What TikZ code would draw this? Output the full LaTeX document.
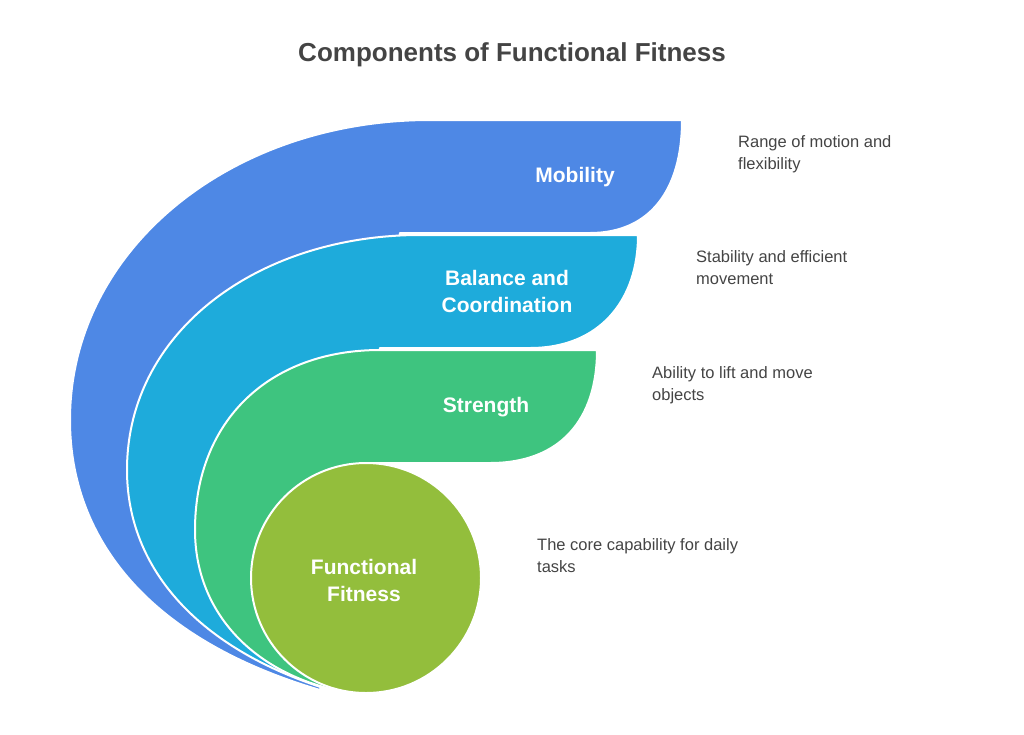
\documentclass[tikz,border=0pt]{standalone}
\usepackage{fontspec}
\setmainfont{Liberation Sans}
\definecolor{mobblue}{HTML}{4E88E5}
\definecolor{balblue}{HTML}{1EABDB}
\definecolor{strgreen}{HTML}{3EC47F}
\definecolor{fitgreen}{HTML}{93BE3C}
\definecolor{txtgray}{HTML}{444444}
\tikzset{
  /tikz/.cd,
  band/.style={draw=white,line width=2pt,line join=round},
  bandlabel/.style={text=white,font=\fontsize{21}{27}\selectfont\bfseries,align=center},
  desc/.style={text=txtgray,font=\fontsize{16.5}{22}\selectfont,align=left,anchor=north west,inner sep=0pt}
}
\begin{document}
\begin{tikzpicture}[x=1pt,y=-1pt]
  \useasboundingbox (0,0) rectangle (1024,734);
  \node[text=txtgray,font=\fontsize{26}{30}\selectfont\bfseries] (title) at (512,55) {Components of Functional Fitness};

  % bands, back to front
  \fill[mobblue,band] (430,120) -- (682,120) .. controls (682,190) and (650,233) .. (590,233)
     -- (400,233) -- (320,690) .. controls (150,640) and (70,540) .. (70,420)
     .. controls (70,250) and (230,120) .. (430,120) -- cycle;
  \fill[balblue,band] (420,235) -- (638,235) .. controls (638,300) and (600,348) .. (530,348)
     -- (380,348) -- (330,690) .. controls (200,650) and (127,570) .. (127,470)
     .. controls (127,330) and (260,235) .. (420,235) -- cycle;
  \fill[strgreen,band] (380,350) -- (597,350) .. controls (597,420) and (560,463) .. (490,463)
     -- (366,463) -- (335,690) .. controls (250,670) and (195,610) .. (195,530)
     .. controls (195,420) and (270,350) .. (380,350) -- cycle;
  \fill[fitgreen,band] (366,578) circle[radius=115];

  \node[bandlabel] (mob) at (575,177) {Mobility};
  \node[bandlabel] (bal) at (507,291) {Balance and\\Coordination};
  \node[bandlabel] (str) at (486,407) {Strength};
  \node[bandlabel] (fit) at (364,580) {Functional\\Fitness};

  \node[desc] (dmob) at (738,135) {Range of motion and\\flexibility};
  \node[desc] (dbal) at (696,250) {Stability and efficient\\movement};
  \node[desc] (dstr) at (652,366) {Ability to lift and move\\objects};
  \node[desc] (dfit) at (537,538) {The core capability for daily\\tasks};
\end{tikzpicture}
\end{document}
